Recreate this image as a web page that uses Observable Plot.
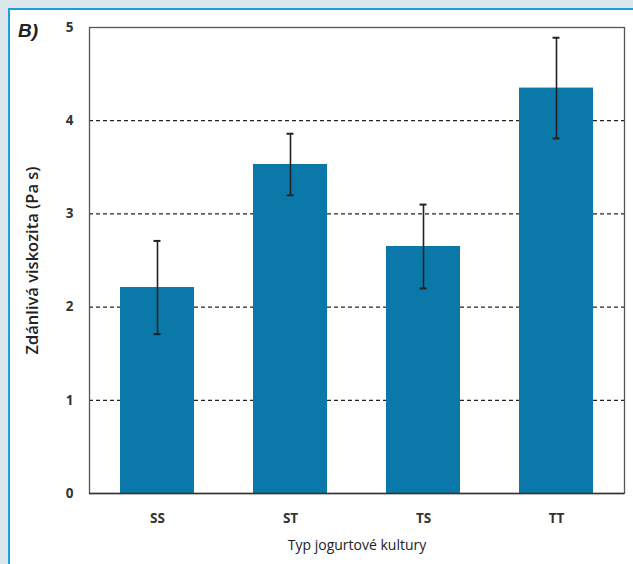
<!DOCTYPE html>
<html>
<head>
<meta charset="utf-8">
<script src="https://cdn.jsdelivr.net/npm/d3@7"></script>
<script src="https://cdn.jsdelivr.net/npm/@observablehq/plot@0.6"></script>
<style>
  html, body { margin: 0; padding: 0; background: #dde7ee; width: 633px; height: 564px; overflow: hidden; }
  #panel { position: absolute; left: 8px; top: 8px; width: 625px; height: 556px; background: #fff;
           border-left: 2px solid #1aa0dc; border-top: 2px solid #1aa0dc; box-sizing: border-box; }
  #tag { position: absolute; left: 18px; top: 20px; font: italic bold 19px "Liberation Sans", Arial, sans-serif; color: #222; }
  #chart { position: absolute; left: 10px; top: 10px; }
</style>
</head>
<body>
<div id="panel"></div>
<div id="tag">B)</div>
<div id="chart"></div>
<script>
const categories = ["SS", "ST", "TS", "TT"];
const means = [2.21, 3.53, 2.65, 4.35];
const errors = [0.50, 0.33, 0.45, 0.54];
const yTicks = [0, 1, 2, 3, 4, 5];
const gridValues = [1, 2, 3, 4];
const xTitle = "Typ jogurtové kultury";
const yTitle = "Zdánlivá viskozita (Pa s)";

const data = categories.map((c, i) => ({cat: c, v: means[i], lo: means[i] - errors[i], hi: means[i] + errors[i]}));

const chart = Plot.plot({
  width: 623,
  height: 554,
  marginLeft: 79,
  marginRight: 9,
  marginTop: 17,
  marginBottom: 71,
  style: {background: "transparent", fontFamily: "'Open Sans', sans-serif", fontSize: "13.5px", fontWeight: "bold", color: "#333"},
  x: {domain: categories, paddingInner: 0.44, paddingOuter: 0.22, label: null, tickSize: 0, tickPadding: 20},
  y: {domain: [0, 5], ticks: yTicks, tickFormat: "d", label: null, tickSize: 0, tickPadding: 16},
  marks: [
    Plot.ruleY(gridValues, {stroke: "#222", strokeWidth: 1.2, strokeDasharray: "4,3"}),
    Plot.barY(data, {x: "cat", y: "v", fill: "#0a78a8"}),
    Plot.ruleX(data, {x: "cat", y1: "lo", y2: "hi", stroke: "#222", strokeWidth: 1.6}),
    Plot.tickY(data, {x: "cat", y: "lo", stroke: "#222", strokeWidth: 2, insetLeft: 33.5, insetRight: 33.5}),
    Plot.tickY(data, {x: "cat", y: "hi", stroke: "#222", strokeWidth: 2, insetLeft: 33.5, insetRight: 33.5}),
    Plot.frame({stroke: "#555", strokeWidth: 1.3}),
    Plot.ruleY([0], {stroke: "#333", strokeWidth: 1.6}),
    Plot.text([xTitle], {frameAnchor: "bottom", dy: 56, fontSize: 14, fontWeight: "normal", fill: "#222"}),
    Plot.text([yTitle], {frameAnchor: "left", rotate: -90, dx: -57, textAnchor: "middle", fontSize: 16.5, fontWeight: 600, fill: "#222"})
  ]
});
document.getElementById("chart").appendChild(chart);
</script>
</body>
</html>
